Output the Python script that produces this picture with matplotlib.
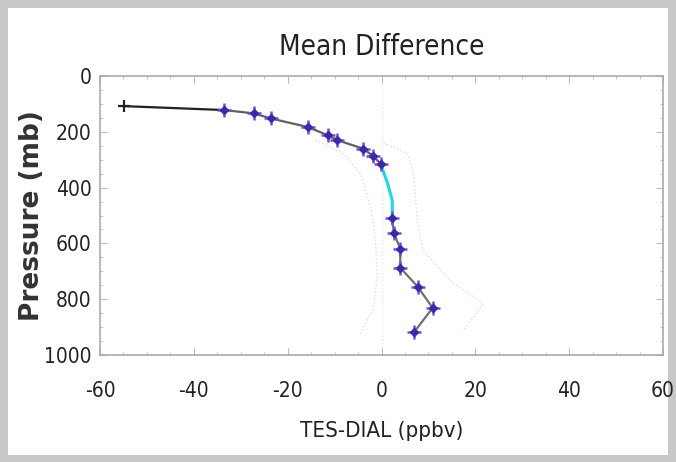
import matplotlib
matplotlib.use('Agg')
import matplotlib.pyplot as plt
from matplotlib.patches import Rectangle
from matplotlib.ticker import MultipleLocator

plt.rcParams['axes.unicode_minus'] = False

# mean difference profile (ppbv vs pressure in mb)
diff = [-54.9, -33.6, -27.2, -23.6, -15.7, -11.5, -9.4, -4.0, -1.9, -0.2,
        1.3, 2.3, 2.3, 2.6, 4.0, 4.0, 7.7, 10.9, 7.0]
pres = [108, 122, 134, 152, 183, 212, 230, 260, 285, 314,
        385, 446, 510, 561, 619, 687, 755, 831, 917]
marked = [False, True, True, True, True, True, True, True, True, True,
          False, False, True, True, True, True, True, True, True]

# faint envelope lines
right_x = [0.4, 5.5, 6.8, 7.7, 8.9, 14.7, 21.7, 17.4]
right_p = [241, 277, 349, 529, 626, 734, 817, 914]
left_x = [-14.0, -8.0, -4.5, -2.3, -1.3, -0.9, -1.7, -4.5]
left_p = [230, 280, 349, 471, 590, 709, 830, 924]

fig = plt.figure(figsize=(6.76, 4.62), dpi=100, facecolor='#c8c8c8')
fig.patches.append(Rectangle((8 / 676, 7 / 462), 660 / 676, 447 / 462,
                             transform=fig.transFigure, facecolor='white',
                             edgecolor='none', zorder=-5))

ax = fig.add_axes([100 / 676, 107 / 462, 563 / 676, 279 / 462])
ax.set_zorder(2)
ax.set_xlim(-60, 60)
ax.set_ylim(1000, 0)

ax.axvline(0, color='#e8e8e8', lw=1, ls=':', zorder=1)
ax.plot(right_x, right_p, color='#dddddd', lw=1, ls=':', zorder=1)
ax.plot(left_x, left_p, color='#dddddd', lw=1, ls=':', zorder=1)

# line: black top, gray middle, cyan section
ax.plot(diff[:2], pres[:2], color='#222222', lw=1.6, zorder=2)
ax.plot(diff[1:10], pres[1:10], color='#606060', lw=1.6, zorder=2)
ax.plot(diff[9:13], pres[9:13], color='#22d4e6', lw=2.2, zorder=2)
ax.plot(diff[12:], pres[12:], color='#707070', lw=1.6, zorder=2)

ax.plot(diff[0], pres[0], marker='+', ms=9, mew=1.6, color='#222222', zorder=3)
mx = [d for d, m in zip(diff, marked) if m]
my = [p for p, m in zip(pres, marked) if m]
ax.plot(mx, my, ls='none', marker='+', ms=10, mew=1.8, color='#7a4cd0', zorder=3)
ax.plot(mx, my, ls='none', marker='D', ms=4, color='#3a2aa8', zorder=4)

ax.xaxis.set_major_locator(MultipleLocator(20))
ax.xaxis.set_minor_locator(MultipleLocator(5))
ax.yaxis.set_major_locator(MultipleLocator(200))
ax.yaxis.set_minor_locator(MultipleLocator(50))
ax.tick_params(which='both', direction='in', top=True, right=True,
               colors='#bbbbbb', labelcolor='#222222', labelsize=15)
ax.tick_params(which='major', length=5)
ax.tick_params(which='minor', length=2.5)
ax.tick_params(axis='x', which='major', pad=19)
ax.tick_params(axis='y', which='major', pad=6)
for lab in ax.get_xticklabels() + ax.get_yticklabels():
    lab.set_fontfamily('DejaVu Sans')
    lab.set_fontstretch('condensed')
for s in ax.spines.values():
    s.set_color('#aaaaaa')
    s.set_linewidth(1.2)

ax.set_title('Mean Difference', fontsize=20, family='DejaVu Sans', stretch='condensed',
             color='#222222', pad=15)
ax.set_xlabel('TES-DIAL (ppbv)', fontsize=16, family='DejaVu Sans', stretch='condensed',
              color='#222222', labelpad=14)
ax.set_ylabel('Pressure (mb)', fontsize=19, fontweight='bold', family='DejaVu Sans',
              color='#333333')
ax.yaxis.set_label_coords(-0.098, 0.5)

fig.savefig('out.png', dpi=100, facecolor=fig.get_facecolor())
